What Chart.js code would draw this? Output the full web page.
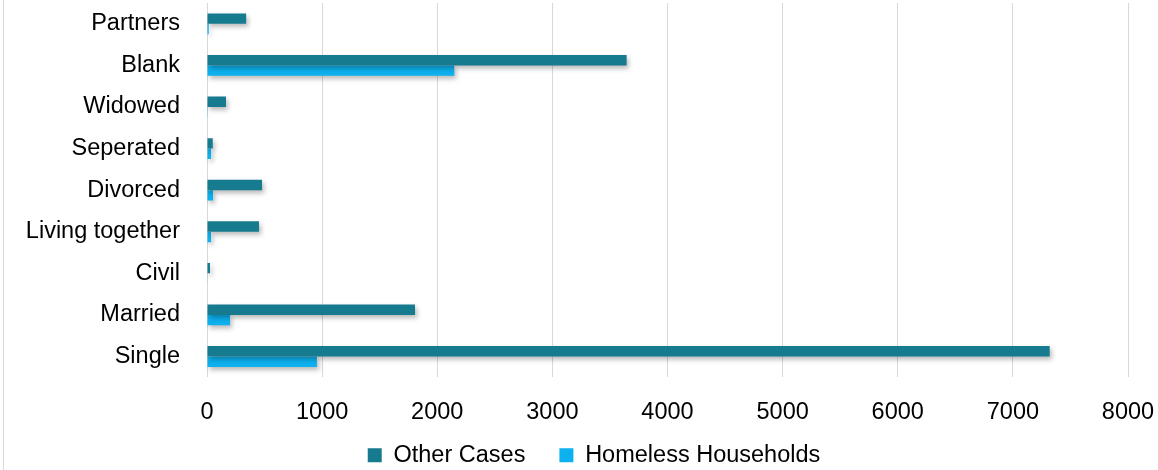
<!DOCTYPE html>
<html>
<head>
<meta charset="utf-8">
<script src="https://cdn.jsdelivr.net/npm/chart.js@4/dist/chart.umd.min.js"></script>
<style>
  html, body { margin: 0; padding: 0; background: #fff; }
  #wrap { position: relative; width: 1158px; height: 470px; }
</style>
</head>
<body>
<div id="wrap"><canvas id="c" width="1158" height="470"></canvas></div>
<script>
const categories = ["Partners", "Blank", "Widowed", "Seperated", "Divorced", "Living together", "Civil", "Married", "Single"];
const otherCases = [340, 3645, 165, 50, 478, 452, 26, 1807, 7320];
const homelessHouseholds = [15, 2148, 6, 35, 52, 35, 5, 200, 955];
const xTicks = [0, 1000, 2000, 3000, 4000, 5000, 6000, 7000, 8000];

const FONT = "'Liberation Sans', Arial, sans-serif";

const shadowPlugin = {
  id: 'barShadow',
  beforeDatasetsDraw(chart) {
    const ctx = chart.ctx;
    ctx.save();
    ctx.shadowColor = 'rgba(0,0,0,0.28)';
    ctx.shadowBlur = 5;
    ctx.shadowOffsetX = 2;
    ctx.shadowOffsetY = 3;
  },
  afterDatasetsDraw(chart) {
    chart.ctx.restore();
  }
};

const borderPlugin = {
  id: 'leftBorder',
  afterDraw(chart) {
    const ctx = chart.ctx;
    ctx.save();
    ctx.strokeStyle = '#d9d9d9';
    ctx.lineWidth = 1;
    ctx.beginPath();
    ctx.moveTo(3.5, 0);
    ctx.lineTo(3.5, chart.height);
    ctx.stroke();
    ctx.restore();
  }
};

// move the legend block so its row sits where the reference puts it
const legendShift = {
  id: 'legendShift',
  afterLayout(chart) {
    const lg = chart.legend;
    if (!lg) return;
    const d = 453 - (lg.bottom - 24);
    lg.top += d;
    lg.bottom += d;
    lg.left += 15;
    lg.right += 15;
  }
};

new Chart(document.getElementById('c'), {
  type: 'bar',
  data: {
    labels: categories,
    datasets: [
      { label: 'Other Cases', data: otherCases, backgroundColor: '#167b8f', borderWidth: 0 },
      { label: 'Homeless Households', data: homelessHouseholds, backgroundColor: '#0cb1ee', borderWidth: 0 }
    ]
  },
  options: {
    indexAxis: 'y',
    responsive: false,
    animation: false,
    devicePixelRatio: 1,
    layout: { padding: { left: 0, right: 0, top: 3, bottom: -45 } },
    datasets: { bar: { categoryPercentage: 0.5, barPercentage: 1.0 } },
    scales: {
      x: {
        min: 0, max: 8000,
        afterBuildTicks(scale) { scale.ticks = xTicks.map(v => ({ value: v })); },
        afterFit(scale) { scale.paddingRight = 30; scale.paddingLeft = 0; },
        grid: { color: '#d9d9d9', lineWidth: 1, drawTicks: false },
        border: { display: false },
        ticks: {
          color: '#000', font: { family: FONT, size: 23.5 }, padding: 21, maxRotation: 0,
          callback: (v) => String(v)
        }
      },
      y: {
        grid: { display: false, drawTicks: false },
        border: { display: false },
        afterFit(scale) { scale.width = 207; scale.paddingTop = 0; scale.paddingBottom = 0; },
        ticks: { color: '#000', font: { family: FONT, size: 23.5 }, padding: 27 }
      }
    },
    plugins: {
      legend: {
        position: 'bottom',
        labels: { color: '#000', font: { family: FONT, size: 23.5 }, boxWidth: 14, boxHeight: 14, padding: 34 }
      },
      tooltip: { enabled: false }
    }
  },
  plugins: [shadowPlugin, borderPlugin, legendShift]
});
</script>
</body>
</html>
